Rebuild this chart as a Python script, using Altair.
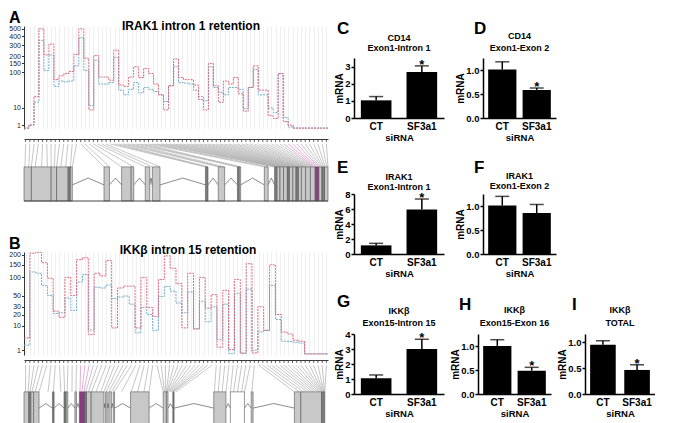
import altair as alt
import pandas as pd

FONT = "Liberation Sans"
RED = "#dc6a80"
BLUE = "#74afcc"

# ---------------- Panel A: IRAK1 read coverage per bin ----------------
A_SF3A1 = [0.55, 1.05, 25, 500, 210, 310, 70, 85, 95, 105,
           215, 500, 185, 8, 205, 80, 80, 68, 250, 52,
           48, 80, 130, 78, 120, 95, 55, 28, 8, 50,
           180, 78, 70, 70, 52, 20, 8, 150, 50, 16,
           65, 55, 78, 30, 7, 45, 135, 38, 38, 4.2,
           2.9, 95, 1.9, 1.0, 0.55, 0.55, 0.55, 0.55, 0.55, 0.55, 0.55]
A_CT = [0.55, 1.05, 16, 350, 110, 210, 48, 65, 62, 65,
        135, 380, 110, 12, 170, 55, 55, 60, 190, 38,
        28, 40, 60, 32, 45, 40, 35, 28, 17, 50,
        130, 60, 58, 55, 38, 25, 18, 130, 45, 33,
        28, 45, 45, 40, 9, 45, 115, 28, 28, 9.6,
        6, 95, 3.3, 0.7, 0.55, 0.55, 0.55, 0.55, 0.55, 0.55, 0.55]
A_YTICKS = [1, 10, 100, 150, 200, 300, 400, 500]
A_TITLE = "IRAK1 intron 1 retention"

# ---------------- Panel B: IKKbeta read coverage per bin ----------------
B_SF3A1 = [3.8, 210, 215, 160, 97, 24, 17, 100, 50, 175,
           185, 5.1, 115, 105, 170, 8.6, 68, 73, 73, 8.6,
           100, 29, 18, 93, 195, 135, 80, 8.6, 115, 8,
           100, 28, 52, 1.43, 62, 1.05, 93, 0.65, 155, 0.65,
           30, 7.2, 150, 20, 6.3, 5.4, 3.07, 2.8, 0.56, 0.56, 0.56, 0.56]
B_CT = [1.82, 120, 115, 75, 50, 21, 22, 45, 25, 85,
        110, 7.4, 70, 68, 76, 44, 47, 49, 34, 5.9,
        29, 20, 7.2, 48, 72, 60, 36, 22, 58, 8,
        39, 13, 30, 3.27, 34, 0.59, 55, 0.6, 65, 0.97,
        6.4, 7.2, 75, 15, 2.8, 2.7, 2.5, 2.3, 0.56, 0.56, 0.56, 0.56]
B_YTICKS = [1, 10, 20, 30, 50, 100, 150, 200]
B_TITLE = "IKKβ intron 15 retention"

# ---------------- gene models (genomic units 45..995) ----------------
A_EXONS = [(45, 68, "e"), (68, 130, "e"), (130, 147, "e"), (147, 183, "e"), (183, 189, "d"), (189, 196, "e"),
           (295, 312, "e"), (350, 380, "e"), (380, 388, "e"), (424, 438, "e"), (446, 470, "e"),
           (612, 620, "d"), (652, 672, "e"), (712, 717, "d"), (717, 722, "e"), (796, 808, "e"),
           (828, 835, "d"), (835, 845, "e"), (845, 856, "e"), (856, 868, "e"), (868, 874, "d"),
           (874, 885, "e"), (885, 895, "e"), (895, 902, "d"), (902, 912, "e"), (912, 925, "e"),
           (925, 940, "e"), (940, 955, "e"), (955, 966, "p"), (966, 976, "e"), (976, 984, "d"), (984, 995, "e")]
A_TARGETS = [48, 60, 68, 80, 100, 118, 130, 140, 147, 160, 175, 190,
             196, 295, 312, 350, 388,
             424, 446, 470,
             612, 616, 620, 652, 660, 672, 712, 717, 722, 796, 808,
             828, 832, 836, 841, 845, 849, 853, 857, 861, 866, 870, 874, 878, 882, 886,
             891, 895, 899, 903, 907, 911, 916, 920, 924, 928, 932, 936, 941, 945, 949,
             953, 957, 961, 966, 970, 974, 978, 982, 986, 991, 995]
A_PURPLE = (950, 967)

B_EXONS = [(45, 60, "e"), (60, 66, "d"), (66, 75, "e"), (75, 92, "e"), (134, 139, "d"), (170, 176, "d"),
           (176, 182, "e"), (204, 209, "e"), (218, 234, "p"), (234, 240, "d"), (240, 255, "e"), (255, 295, "e"),
           (300, 305, "e"), (310, 318, "e"), (324, 328, "e"), (378, 436, "e"), (480, 490, "e"), (490, 495, "e"),
           (510, 514, "d"), (638, 676, "e"), (690, 734, "w"), (755, 761, "e"), (890, 910, "e"),
           (910, 975, "e"), (975, 985, "d")]
B_TARGETS = [50, 58, 64, 70, 80, 92, 120, 137, 160, 172, 180, 195, 207, 220,
             226, 232, 238, 246, 256, 270, 285,
             295, 302, 310, 318, 326, 350, 380, 400, 420, 436,
             480, 484, 487, 490, 492, 494, 497, 500, 503, 506, 509, 511, 513, 520,
             640, 652, 664, 676, 690, 700, 712, 725, 734, 757,
             890, 905, 918, 930, 940, 948, 955, 961, 966, 970, 973, 976, 978, 980, 982, 984, 985]
B_PURPLE = (218, 234)

G0, G1 = 45, 995          # genomic span of the diagram
TICK_X0, TICK_X1 = 50, 990

# ---------------- qPCR bar panels ----------------
GROUPS = ["CT", "SF3a1"]
PANELS = {
    "C": dict(gene="CD14", region="Exon1-Intron 1", mean=[1.03, 2.69], err=[0.22, 0.35], star=[False, True]),
    "D": dict(gene="CD14", region="Exon1-Exon 2", mean=[1.02, 0.59], err=[0.16, 0.04], star=[False, True]),
    "E": dict(gene="IRAK1", region="Exon1-Intron 1", mean=[1.15, 5.95], err=[0.27, 1.38], star=[False, True]),
    "F": dict(gene="IRAK1", region="Exon1-Exon 2", mean=[1.02, 0.86], err=[0.19, 0.18], star=[False, False]),
    "G": dict(gene="IKKβ", region="Exon15-Intron 15", mean=[1.05, 3.0], err=[0.22, 0.65], star=[False, True]),
    "H": dict(gene="IKKβ", region="Exon15-Exon 16", mean=[1.01, 0.49], err=[0.13, 0.07], star=[False, True]),
    "I": dict(gene="IKKβ", region="TOTAL", mean=[0.95, 0.465], err=[0.08, 0.10], star=[False, True]),
}


def text_layer(txt, x, y, size, align="left", baseline="alphabetic", weight="bold"):
    return alt.Chart(pd.DataFrame({"t": [txt]})).mark_text(
        font=FONT, fontSize=size, fontWeight=weight, align=align, baseline=baseline, color="black"
    ).encode(text="t:N", x=alt.value(x), y=alt.value(y))


def blank(h=1):
    return alt.Chart(pd.DataFrame({"a": [0]})).mark_rule(color="white", strokeWidth=0.1).encode(
        x=alt.value(0), x2=alt.value(1), y=alt.value(0), y2=alt.value(0)).properties(width=1, height=h)


def cov_chart(red, blue, ydom, yticks, title, letter, width, height, title_x, title_y, letter_y):
    n = len(red)
    pos, val, ser = [], [], []
    for i in range(n + 1):
        j = min(i, n - 1)
        pos += [i, i]
        val += [blue[j], red[j]]
        ser += ["siCT", "siSF3a1"]
    df = pd.DataFrame({"pos": pos, "value": val, "series": ser})
    nt = 72
    grid_vals = [(TICK_X0 + k * (TICK_X1 - TICK_X0) / (nt - 1) - G0) / (G1 - G0) * n for k in range(nt)]
    lines = alt.Chart(df).mark_line(interpolate="step-after", strokeWidth=1, strokeDash=[2, 1]).encode(
        x=alt.X("pos:Q", scale=alt.Scale(domain=[0, n], nice=False, zero=False),
                axis=alt.Axis(title=None, labels=False, ticks=False, domain=False, grid=True,
                              gridColor="#e6e6e6", gridWidth=0.6, values=grid_vals)),
        y=alt.Y("value:Q", scale=alt.Scale(type="pow", exponent=0.3, domain=ydom, nice=False, zero=False),
                axis=alt.Axis(title=None, values=yticks, format="d", labelFont=FONT, labelFontSize=7,
                              labelColor="#222", labelPadding=1, labelOverlap=False, tickSize=2.5,
                              domainColor="#333", tickColor="#333", grid=False)),
        color=alt.Color("series:N", scale=alt.Scale(domain=["siCT", "siSF3a1"], range=[BLUE, RED]), legend=None),
    )
    return alt.layer(
        lines,
        text_layer(title, title_x, title_y, 12, align="center"),
        text_layer(letter, -15, letter_y, 16),
    ).properties(width=width, height=height)


def gene_chart(exons, targets, purple, width, height, band_top, line_top, chev_base, chev_peak):
    nt = len(targets)
    tx = [TICK_X0 + k * (TICK_X1 - TICK_X0) / (nt - 1) for k in range(nt)]
    links = pd.DataFrame({"tx": tx, "g": targets})
    links["hl"] = [(purple[0] <= g <= purple[1]) for g in targets]
    ex = pd.DataFrame(exons, columns=["s", "e", "kind"])
    exs = sorted(exons)
    cid, cx, cy = [], [], []
    for k in range(len(exs) - 1):
        a, b = exs[k][1], exs[k + 1][0]
        if b - a > 1:
            cid += [k] * 3
            cx += [a, (a + b) / 2, b]
            cy += [chev_base, chev_peak, chev_base]
    chev = pd.DataFrame({"id": cid, "x": cx, "y": cy})

    xs = alt.Scale(domain=[G0, G1], nice=False, zero=False)
    ys = alt.Scale(domain=[0, 1], nice=False, zero=False)
    xax = alt.Axis(orient="top", labels=False, ticks=False, domain=True, domainColor="#3a3a3a",
                   domainWidth=1, grid=False, title=None)

    def X(f):
        return alt.X(f, type="quantitative", scale=xs, axis=xax)

    gray_links = alt.Chart(links).transform_filter("!datum.hl").mark_rule(color="#adadad", strokeWidth=0.7).encode(
        x=X("tx"), x2="g:Q", y=alt.Y(datum=line_top, scale=ys, axis=None), y2=alt.Y2(datum=band_top))
    pink_links = alt.Chart(links).transform_filter("datum.hl").mark_rule(color="#d88cc4", strokeWidth=0.7).encode(
        x=X("tx"), x2="g:Q", y=alt.Y(datum=line_top, scale=ys, axis=None), y2=alt.Y2(datum=band_top))
    chevrons = alt.Chart(chev).mark_line(color="#5a5a5a", strokeWidth=0.7).encode(
        x=X("x"), y=alt.Y("y:Q", scale=ys, axis=None), detail="id:N")
    layers = [gray_links, pink_links, chevrons]
    fills = {"e": "#c8c8c8", "d": "#7d7d7d", "p": "#8c3a82", "w": "#ffffff"}
    for kind, fill in fills.items():
        layers.append(alt.Chart(ex).transform_filter(f"datum.kind == '{kind}'").mark_rect(
            fill=fill, stroke="#555555", strokeWidth=0.6).encode(
            x=X("s"), x2="e:Q", y=alt.Y(datum=0, scale=ys, axis=None), y2=alt.Y2(datum=band_top)))
    ticks = alt.Chart(links).mark_rule(color="#3a3a3a", strokeWidth=0.8).encode(
        x=X("tx"), y=alt.Y(datum=1.0, scale=ys, axis=None), y2=alt.Y2(datum=1.0 - 3.0 / height))
    base_line = alt.Chart(pd.DataFrame({"a": [G0], "b": [G1]})).mark_rule(color="#444", strokeWidth=1).encode(
        x=X("a"), x2="b:Q", y=alt.Y(datum=0, scale=ys, axis=None))
    layers += [ticks, base_line]
    return alt.layer(*layers).properties(width=width, height=height)


def bar_chart(letter, width, ydom, yticks, fmt, pad_inner, letter_x, letter_y, title_y):
    p = PANELS[letter]
    df = pd.DataFrame({"group": GROUPS, "mean": p["mean"], "err": p["err"], "star": p["star"]})
    base = alt.Chart(df).transform_calculate(top="datum.mean + datum.err")
    xsc = alt.Scale(domain=GROUPS, paddingInner=pad_inner, paddingOuter=0.15)
    xax = alt.Axis(title="siRNA", labelAngle=0, ticks=False, domainColor="black", domainWidth=1.5,
                   labelFont=FONT, labelFontSize=10, labelFontWeight="bold", labelColor="black", labelPadding=3,
                   titleFont=FONT, titleFontSize=9.5, titleFontWeight="bold", titleColor="black", titlePadding=1)
    ysc = alt.Scale(domain=ydom, nice=False, zero=True)
    yax = alt.Axis(title="mRNA", values=yticks, format=fmt, grid=False, domainColor="black", domainWidth=1.5,
                   tickColor="black", tickWidth=1.5, tickSize=3, labelFont=FONT, labelFontSize=9.5,
                   labelFontWeight="bold", labelColor="black", labelPadding=1, titleFont=FONT, titleFontSize=10,
                   titleFontWeight="bold", titleColor="black", titlePadding=0)
    X = alt.X("group:N", scale=xsc, axis=xax)
    bars = base.mark_bar(color="black").encode(x=X, y=alt.Y("mean:Q", scale=ysc, axis=yax))
    err = base.mark_rule(color="black", strokeWidth=1.5).encode(x=X, y=alt.Y("mean:Q", scale=ysc, axis=yax), y2="top:Q")
    cap = base.mark_tick(color="black", thickness=1.5, size=14).encode(x=X, y=alt.Y("top:Q", scale=ysc, axis=yax))
    star = base.transform_filter("datum.star").mark_text(
        text="*", font=FONT, fontSize=13, fontWeight="bold", baseline="alphabetic", dy=3, color="black"
    ).encode(x=X, y=alt.Y("top:Q", scale=ysc, axis=yax))
    layers = [bars, err, cap, star,
              text_layer(letter, letter_x, letter_y, 17),
              text_layer(p["gene"], width / 2, title_y[0], 9, align="center", baseline="middle"),
              text_layer(p["region"], width / 2, title_y[1], 9, align="center", baseline="middle")]
    return alt.layer(*layers).properties(width=width, height=60)


LW = 304
a_cov = cov_chart(A_SF3A1, A_CT, [0.444, 542], A_YTICKS, A_TITLE, "A", LW, 103, 167, 4, -3)
a_gene = gene_chart(A_EXONS, A_TARGETS, A_PURPLE, LW, 62, 0.55, 0.92, 0.26, 0.37)
b_cov = cov_chart(B_SF3A1, B_CT, [0.465, 217], B_YTICKS, B_TITLE, "B", LW, 103, 164, 2, -3)
b_gene = gene_chart(B_EXONS, B_TARGETS, B_PURPLE, LW, 65, 0.51, 0.92, 0.26, 0.33)

left = alt.vconcat(
    blank(),
    alt.vconcat(
        alt.vconcat(a_cov, a_gene, spacing=7),
        alt.vconcat(b_cov, b_gene, spacing=3),
        spacing=34,
    ),
    spacing=0,
)

c = bar_chart("C", 90, [0, 3.5], [0, 1, 2, 3], "d", 0.33, -17, -24, (-20, -10))
d = bar_chart("D", 73, [0, 1.26], [0, 0.5, 1.0], ".1f", 0.18, -9, -24, (-22, -10))
e = bar_chart("E", 90, [0, 8], [0, 2, 4, 6, 8], "d", 0.33, -17, -21, (-17, -7))
f = bar_chart("F", 73, [0, 1.26], [0, 0.5, 1.0], ".1f", 0.18, -9, -21, (-18, -8))
g = bar_chart("G", 90, [0, 4], [0, 1, 2, 3, 4], "d", 0.33, -17, -27, (-23, -11))
h = bar_chart("H", 73, [0, 1.26], [0, 0.5, 1.0], ".1f", 0.18, -19, -24, (-24, -11))
i_ = bar_chart("I", 70, [0, 1.16], [0, 0.5, 1.0], ".1f", 0.25, -13, -24, (-24, -11))

right = alt.vconcat(
    blank(),
    alt.vconcat(
        alt.vconcat(alt.hconcat(c, d, spacing=11), alt.hconcat(e, f, spacing=11), spacing=17),
        alt.hconcat(g, h, i_, spacing=6),
        spacing=15,
    ),
    spacing=10,
)

chart = alt.ConcatChart(concat=[left, right], columns=2, align="none", spacing=4).properties(
    padding=0, background="white"
).configure_view(stroke=None)

chart.save("out.html", embed_options={"renderer": "svg", "actions": False})
